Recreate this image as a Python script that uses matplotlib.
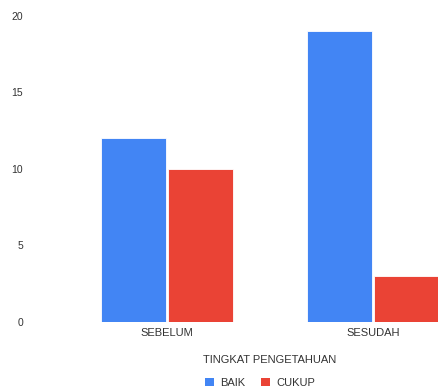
import matplotlib
matplotlib.use('Agg')
from matplotlib import pyplot as plt
from matplotlib.patches import Patch
import numpy as np

# data
kategori = ['SEBELUM', 'SESUDAH']
baik = [12, 19]
cukup = [10, 3]
y_ticks = [0, 5, 10, 15, 20]

biru = '#4285F4'
merah = '#EA4335'
teks = '#333333'

plt.rcParams['font.family'] = ['Liberation Sans', 'DejaVu Sans']

fig = plt.figure(figsize=(4.38, 3.91), dpi=100)
# axes sengaja melebar ke kanan melewati gambar (seperti screenshot terpotong)
ax = fig.add_axes([64 / 438, 69 / 391, 412 / 438, 306 / 391])

x = np.arange(len(kategori))
w = 0.316
ax.bar(x - 0.163, baik, width=w, color=biru, edgecolor='white', linewidth=0.6)
ax.bar(x + 0.163, cukup, width=w, color=merah, edgecolor='white', linewidth=0.6)

ax.set_xlim(-0.5, 1.5)
ax.set_ylim(0, 20)
ax.set_yticks(y_ticks)
ax.set_xticks(x)
ax.set_xticklabels(kategori)
for s in ax.spines.values():
    s.set_visible(False)
ax.tick_params(axis='y', length=0, pad=29.5, labelsize=7.5, labelcolor=teks)
ax.tick_params(axis='x', length=0, pad=4, labelsize=8, labelcolor=teks)

fig.text(270 / 438, 1 - 360 / 391, 'TINGKAT PENGETAHUAN', ha='center', va='center',
         fontsize=8, color=teks)

handles = [Patch(facecolor=biru), Patch(facecolor=merah)]
fig.legend(handles, ['BAIK', 'CUKUP'], loc='center', bbox_to_anchor=(260 / 438, 1 - 383 / 391),
           ncol=2, frameon=False, fontsize=8, labelcolor=teks,
           handlelength=0.8, handleheight=0.8, handletextpad=0.6, columnspacing=1.4)

fig.savefig('out.png', dpi=100)
